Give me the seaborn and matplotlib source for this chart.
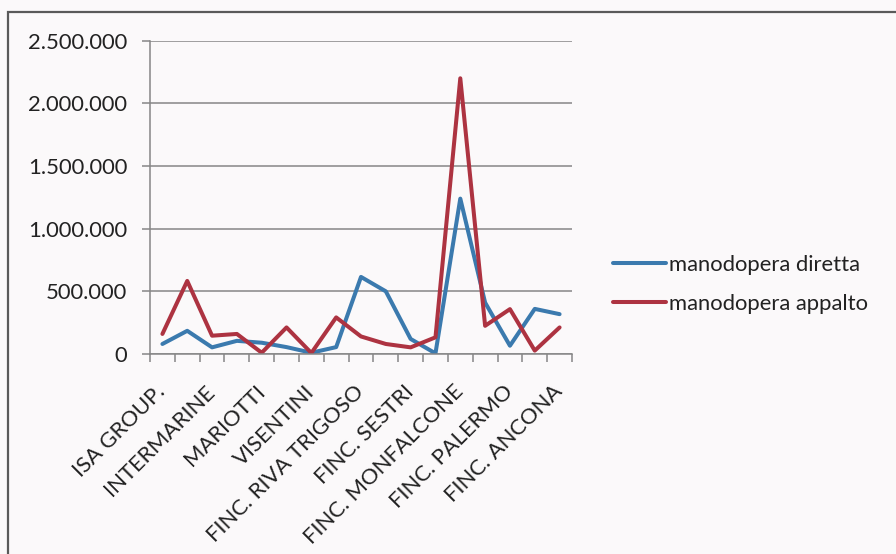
import seaborn as sns
import pandas as pd
import matplotlib
matplotlib.use('Agg')
import matplotlib.pyplot as plt
from matplotlib.ticker import FuncFormatter, FixedLocator
from matplotlib.lines import Line2D
from matplotlib.patches import Rectangle

###### dati ######
# 17 aziende, Excel mostra solo un'etichetta ogni due
aziende = ['ISA GROUP.', '', 'INTERMARINE', '', 'MARIOTTI', '', 'VISENTINI', '',
           'FINC. RIVA TRIGOSO', '', 'FINC. SESTRI', '', 'FINC. MONFALCONE', '',
           'FINC. PALERMO', '', 'FINC. ANCONA']
diretta = [80000, 185000, 53000, 105000, 90000, 55000, 10000, 55000, 615000,
           500000, 120000, 5000, 1240000, 410000, 66000, 360000, 318000]
appalto = [160000, 583000, 146000, 160000, 10000, 212000, 8000, 292000, 140000,
           80000, 53000, 133000, 2200000, 225000, 358000, 27000, 212000]
serie = ['manodopera diretta', 'manodopera appalto']
colori = ['#3b7aae', '#ad3341']
###### dati ######

W, H = 896, 554
bg = '#fbf9fa'
grigio = '#868686'
testo = '#222222'

def plot_chart():
    sns.set_style('white')
    plt.rcParams['font.family'] = ['Lato', 'DejaVu Sans']

    df = pd.DataFrame({
        'pos': list(range(len(aziende))) * 2,
        'valore': diretta + appalto,
        'serie': [serie[0]] * len(diretta) + [serie[1]] * len(appalto),
    })

    fig = plt.figure(figsize=(W / 100, H / 100), dpi=100, facecolor=bg)
    ax = fig.add_axes([150 / W, 1 - 354 / H, (572 - 150) / W, (354 - 40.7) / H])
    ax.set_facecolor(bg)

    sns.lineplot(data=df, x='pos', y='valore', hue='serie', hue_order=serie,
                 palette=colori, linewidth=2.9, sort=False, legend=False, ax=ax)

    # assi stile Excel
    ax.set_xlim(-0.5, len(aziende) - 0.5)
    ax.set_ylim(0, 2500000)
    ax.set_yticks(range(0, 2500001, 500000))
    ax.yaxis.set_major_formatter(FuncFormatter(lambda v, p: f'{v:,.0f}'.replace(',', '.')))
    ax.grid(axis='y', color=grigio, linewidth=1.1)
    ax.set_axisbelow(True)
    for s in ['top', 'right']:
        ax.spines[s].set_visible(False)
    for s in ['left', 'bottom']:
        ax.spines[s].set_color(grigio)
        ax.spines[s].set_linewidth(1.1)

    ax.set_xticks(range(len(aziende)))
    ax.set_xticklabels(aziende)
    ax.xaxis.set_minor_locator(FixedLocator([i - 0.5 for i in range(len(aziende) + 1)]))
    ax.tick_params(axis='x', which='both', bottom=True)
    ax.tick_params(axis='x', which='major', length=0, pad=25, labelsize=15.8, colors=testo)
    ax.tick_params(axis='x', which='minor', length=5.8, width=1.1, color=grigio, direction='out')
    ax.tick_params(axis='y', left=True, length=5.8, width=1.1, color=grigio, direction='out',
                   pad=10.6, labelsize=15.8, labelcolor=testo)
    for t in ax.get_xticklabels():
        t.set_rotation(45)
        t.set_rotation_mode('anchor')
        t.set_ha('right')
        t.set_va('center')

    ax.set_xlabel('')
    ax.set_ylabel('')

    handles = [Line2D([], [], color=c, linewidth=2.9) for c in colori]
    leg = fig.legend(handles, serie, loc='center left', bbox_to_anchor=(613 / W, 1 - 284.5 / H),
                     frameon=False, fontsize=15.8, handlelength=2.4, handletextpad=0.15,
                     labelspacing=0.85, borderpad=0, borderaxespad=0)
    for t in leg.get_texts():
        t.set_color(testo)

    # cornice del grafico (scansione)
    fig.patches.append(Rectangle((8 / W, -0.1), 1.2, 1 - 12 / H + 0.1,
                                 transform=fig.transFigure, fill=False,
                                 edgecolor='#5a5a5a', linewidth=1.6))

    fig.savefig('out.png', dpi=100, facecolor=bg)

plot_chart()
